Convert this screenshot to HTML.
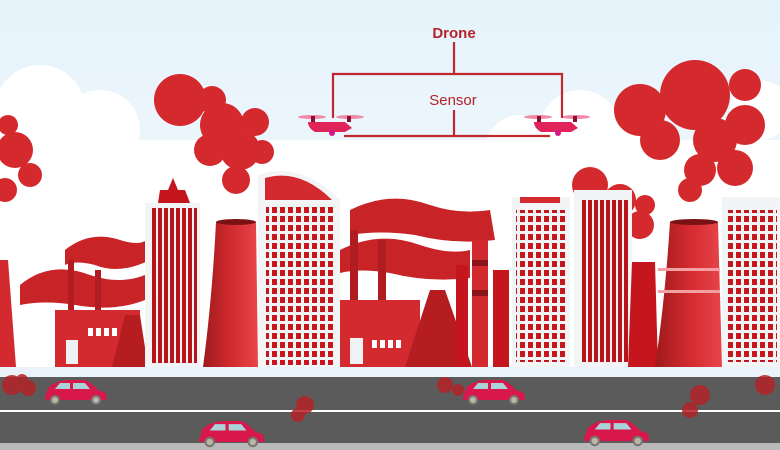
<!DOCTYPE html>
<html><head><meta charset="utf-8"><style>
html,body{margin:0;padding:0;width:780px;height:450px;overflow:hidden;background:#fff}
svg{display:block}
text{font-family:"Liberation Sans",sans-serif}
</style></head><body>
<svg width="780" height="450" viewBox="0 0 780 450" xmlns="http://www.w3.org/2000/svg">
<defs>
<linearGradient id="sky" x1="0" y1="0" x2="0" y2="1"><stop offset="0" stop-color="#e6f3fb"/><stop offset="1" stop-color="#f7fbfe"/></linearGradient>
<linearGradient id="tow" x1="0" y1="0" x2="1" y2="0"><stop offset="0" stop-color="#9e1a1e"/><stop offset="0.5" stop-color="#d22a2e"/><stop offset="1" stop-color="#e8454a"/></linearGradient>
<pattern id="win" width="8" height="9" patternUnits="userSpaceOnUse"><rect width="5" height="6" fill="#c4161c"/></pattern>
<pattern id="win2" width="6" height="100" patternUnits="userSpaceOnUse"><rect width="4" height="100" fill="#b8141a"/></pattern>
</defs>
<rect width="780" height="450" fill="url(#sky)"/>
<!-- clouds -->
<g fill="#fff">
<circle cx="40" cy="110" r="45"/><circle cx="100" cy="130" r="40"/><circle cx="0" cy="150" r="40"/>
<circle cx="520" cy="150" r="35"/><circle cx="580" cy="130" r="40"/><circle cx="640" cy="150" r="35"/>
<circle cx="760" cy="110" r="30"/><rect x="0" y="140" width="780" height="230"/>
</g>
<!-- smoke -->
<g fill="#d42a2e">
<circle cx="180" cy="100" r="26"/><circle cx="222" cy="125" r="22"/><circle cx="240" cy="150" r="20"/><circle cx="210" cy="150" r="16"/><circle cx="236" cy="180" r="14"/><circle cx="212" cy="100" r="14"/><circle cx="255" cy="122" r="14"/><circle cx="262" cy="152" r="12"/>
<circle cx="695" cy="95" r="35"/><circle cx="640" cy="110" r="26"/><circle cx="660" cy="140" r="20"/><circle cx="715" cy="140" r="22"/><circle cx="745" cy="125" r="20"/><circle cx="735" cy="168" r="18"/><circle cx="700" cy="170" r="16"/><circle cx="690" cy="190" r="12"/><circle cx="745" cy="85" r="16"/>
<circle cx="15" cy="150" r="18"/><circle cx="30" cy="175" r="12"/><circle cx="5" cy="190" r="12"/><circle cx="8" cy="125" r="10"/>
<circle cx="590" cy="185" r="18"/><circle cx="620" cy="200" r="16"/><circle cx="640" cy="225" r="14"/><circle cx="645" cy="205" r="10"/>
</g>
<!-- wavy factory smoke -->
<g fill="#c82428">
<path d="M65 250 q25 -20 55 -10 q25 8 30 -5 l0 25 q-30 15 -55 5 q-20 -5 -30 0z"/>
<path d="M20 285 q30 -25 70 -10 q30 10 55 0 l0 25 q-30 12 -70 5 q-30 -5 -55 0z"/>
<path d="M350 210 q40 -20 80 -5 q30 10 60 5 l5 30 q-40 5 -80 -5 q-35 -5 -65 0z"/>
<path d="M340 250 q40 -20 80 -5 q30 10 50 5 l0 28 q-40 5 -80 -5 q-30 -5 -50 0z"/>
</g>
<!-- left edge tower -->
<path d="M0 260 L8 260 L16 367 L0 367z" fill="#d22a2e"/>
<!-- factory left -->
<rect x="55" y="310" width="85" height="57" fill="#d22a2e"/>
<rect x="66" y="340" width="12" height="24" fill="#eef2f5"/>
<g fill="#fff"><rect x="88" y="328" width="5" height="8"/><rect x="96" y="328" width="5" height="8"/><rect x="104" y="328" width="5" height="8"/><rect x="112" y="328" width="5" height="8"/></g>
<rect x="68" y="260" width="6" height="50" fill="#b01c20"/><rect x="95" y="270" width="6" height="40" fill="#b01c20"/>
<path d="M112 367 L125 315 L140 315 L148 367z" fill="#b51d21"/>
<!-- tall bldg 1 -->
<rect x="145" y="203" width="55" height="164" fill="#f2f4f6"/>
<rect x="150" y="208" width="45" height="155" fill="url(#win2)" transform="translate(2,0)"/>
<path d="M158 203 L160 190 L185 190 L190 203z" fill="#c4161c"/><path d="M168 190 l5 -12 l5 12z" fill="#c4161c"/>
<!-- cooling tower 1 -->
<path d="M216 222 L256 222 L258 367 L203 367 Q212 300 216 222z" fill="url(#tow)"/>
<ellipse cx="236" cy="222" rx="20" ry="3" fill="#7a1215"/>
<!-- tall bldg 2 -->
<path d="M258 367 L258 175 Q300 160 340 200 L340 367z" fill="#f2f4f6"/>
<path d="M265 178 Q300 168 332 200 L265 200z" fill="#d22a2e"/>
<rect x="266" y="205" width="70" height="160" fill="url(#win)"/>
<!-- factory middle -->
<rect x="340" y="300" width="80" height="67" fill="#d22a2e"/>
<rect x="350" y="338" width="13" height="26" fill="#eef2f5"/>
<g fill="#fff"><rect x="372" y="340" width="5" height="8"/><rect x="380" y="340" width="5" height="8"/><rect x="388" y="340" width="5" height="8"/><rect x="396" y="340" width="5" height="8"/></g>
<rect x="350" y="230" width="8" height="70" fill="#b01c20"/><rect x="378" y="240" width="8" height="60" fill="#b01c20"/>
<path d="M405 367 L430 290 L445 290 L472 367z" fill="#b51d21"/>
<rect x="456" y="265" width="12" height="102" fill="#c4161c"/>
<rect x="472" y="240" width="16" height="127" fill="#d22a2e"/><rect x="472" y="260" width="16" height="6" fill="#8a1418"/><rect x="472" y="290" width="16" height="6" fill="#8a1418"/>
<rect x="493" y="270" width="16" height="97" fill="#c4161c"/>
<!-- tall bldg 3,4 -->
<rect x="512" y="197" width="58" height="170" fill="#f2f4f6"/>
<rect x="516" y="210" width="50" height="152" fill="url(#win)"/>
<rect x="520" y="197" width="40" height="6" fill="#d22a2e"/>
<rect x="574" y="190" width="58" height="177" fill="#f2f4f6"/>
<rect x="580" y="200" width="48" height="162" fill="url(#win2)"/>
<!-- cooling towers right -->
<path d="M632 262 L655 262 L658 367 L628 367z" fill="#c4161c"/>
<path d="M670 222 L718 222 L722 367 L655 367 Q665 300 670 222z" fill="url(#tow)"/>
<ellipse cx="694" cy="222" rx="24" ry="3" fill="#7a1215"/>
<rect x="658" y="268" width="62" height="3" fill="#f2a0a2"/><rect x="658" y="290" width="62" height="3" fill="#f2a0a2"/>
<rect x="722" y="197" width="58" height="170" fill="#f2f4f6"/>
<rect x="727" y="210" width="50" height="152" fill="url(#win)"/>
<!-- ground -->
<rect x="0" y="367" width="780" height="11" fill="#eaf3fa"/>
<!-- road -->
<rect x="0" y="377" width="780" height="66" fill="#5b5b5b"/>
<rect x="0" y="410" width="780" height="2" fill="#fff"/>
<rect x="0" y="443" width="780" height="7" fill="#b9b9b9"/>
<!-- exhaust -->
<g fill="#b42328" opacity="0.85">
<circle cx="12" cy="385" r="10"/><circle cx="28" cy="388" r="8"/><circle cx="22" cy="380" r="6"/>
<circle cx="445" cy="385" r="8"/><circle cx="458" cy="390" r="6"/>
<circle cx="305" cy="405" r="9"/><circle cx="298" cy="415" r="7"/>
<circle cx="700" cy="395" r="10"/><circle cx="690" cy="410" r="8"/><circle cx="765" cy="385" r="10"/>
</g>
<!-- cars -->
<g id="car">
<path d="M45 397 L48 388 Q56 380 70 380 L85 380 Q92 383 98 390 L106 393 L107 400 L45 400z" fill="#d8174a"/>
<path d="M55 389 L60 383 L70 383 L70 389z M73 383 L85 383 L90 389 L73 389z" fill="#a9d3d8"/>
<circle cx="55" cy="400" r="5" fill="#777"/><circle cx="55" cy="400" r="3" fill="#bcb6a2"/>
<circle cx="96" cy="400" r="5" fill="#777"/><circle cx="96" cy="400" r="3" fill="#bcb6a2"/>
</g>
<use href="#car" transform="translate(418,0)"/>
<use href="#car" transform="translate(152,22) scale(1.05)"/>
<use href="#car" transform="translate(537,21) scale(1.05)"/>
<!-- drones -->
<g id="dr">
<path d="M308 122 L345 122 L352 128 L345 132 L315 132 Q308 128 308 122z" fill="#e0245a"/>
<ellipse cx="312" cy="117" rx="14" ry="2" fill="#f08aa8"/><ellipse cx="350" cy="117" rx="14" ry="2" fill="#f08aa8"/>
<rect x="311" y="116" width="4" height="6" fill="#8b1030"/><rect x="347" y="116" width="4" height="6" fill="#8b1030"/>
<circle cx="332" cy="133" r="3" fill="#d01a8a"/>
</g>
<use href="#dr" transform="translate(226,0)"/>
<!-- diagram -->
<g stroke="#c0282e" stroke-width="2.2" fill="none">
<line x1="454" y1="42" x2="454" y2="74"/>
<polyline points="333,118 333,74 562,74 562,118"/>
<line x1="454" y1="110" x2="454" y2="136"/>
<line x1="344" y1="136" x2="550" y2="136"/>
</g>
<text x="454" y="38" text-anchor="middle" font-size="15" font-weight="bold" fill="#b5222a">Drone</text>
<text x="453" y="105" text-anchor="middle" font-size="15" fill="#b5222a">Sensor</text>
</svg>
</body></html>
